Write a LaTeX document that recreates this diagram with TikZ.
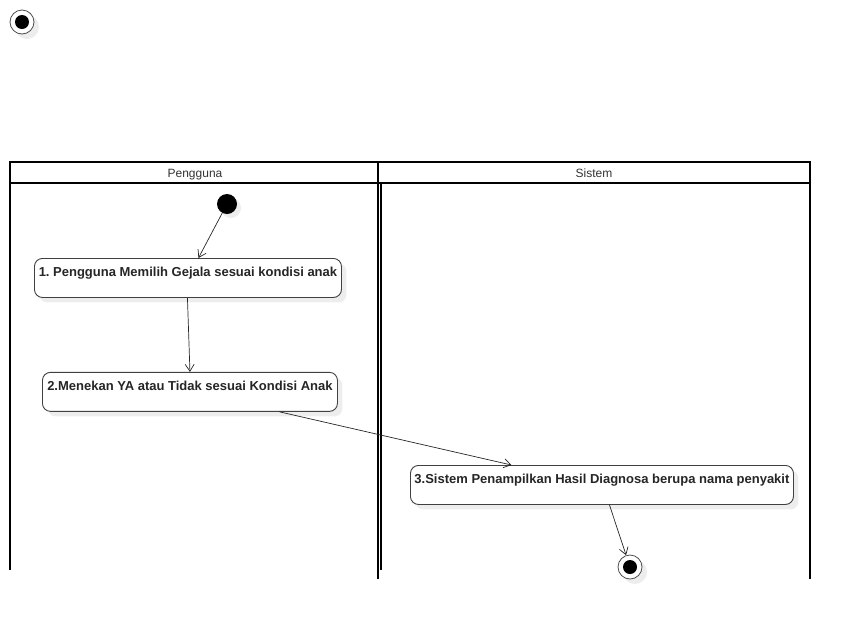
\documentclass[tikz,border=0pt]{standalone}
\usepackage{fontspec}
\setmainfont{Liberation Sans}
\frenchspacing
\usetikzlibrary{positioning,arrows.meta,shadows}

\tikzset{
    lane/.style={line width=2pt, line cap=rect},
    lanetitle/.style={font=\fontsize{12pt}{14pt}\selectfont, text=black!80, anchor=base},
    action/.style={
        draw=black!75, line width=0.9pt, fill=white, rounded corners=8pt,
        font=\fontsize{13pt}{15pt}\selectfont\bfseries, text=black!85,
        minimum height=39pt, text height=15pt, text depth=18pt,
        inner xsep=3pt, inner ysep=3pt,
        drop shadow={shadow xshift=5pt, shadow yshift=-5pt, fill=black!7, opacity=1}
    },
    startnode/.style={
        circle, fill=black, minimum size=20pt, inner sep=0pt,
        drop shadow={shadow xshift=4pt, shadow yshift=-4pt, fill=black!7, opacity=1}
    },
    endnode/.style={
        circle, draw=black!70, line width=0.8pt, fill=white, minimum size=24pt, inner sep=0pt,
        path picture={\fill[black] (path picture bounding box.center) circle (7pt);},
        drop shadow={shadow xshift=5pt, shadow yshift=-5pt, fill=black!7, opacity=1}
    },
    flow/.style={-{Straight Barb[length=7pt, width=9pt]}, line width=0.7pt, draw=black!85}
}

\begin{document}
\begin{tikzpicture}[x=1pt, y=-1pt]
    \useasboundingbox (0,0) rectangle (850,619);

    % lajur
    \draw[lane] (10,569) -- (10,162) -- (810,162) -- (810,578);
    \draw[lane] (10,183) -- (810,183);
    \draw[lane] (378,162) -- (378,578);
    \draw[lane] (381,183) -- (381,569);
    \node[lanetitle] (pengguna) at (195,177.5) {Pengguna};
    \node[lanetitle] (sistem) at (594,177.5) {Sistem};

    \node[endnode] (mark) at (22,22) {};

    % aktivitas
    \node[startnode] (mulai) at (227,204) {};
    \node[action, minimum width=307pt, anchor=north west] (a1) at (34,258) {1. Pengguna Memilih Gejala sesuai kondisi anak};
    \node[action, minimum width=295pt, below=74pt of a1, xshift=2pt] (a2) {2.Menekan YA atau Tidak sesuai Kondisi Anak};
    \node[action, minimum width=383pt, anchor=north west] (a3) at (410,465) {3.Sistem Penampilkan Hasil Diagnosa berupa nama penyakit};
    \node[endnode] (selesai) at (630,567) {};

    \draw[flow] (mulai) -- ([xshift=10.5pt]a1.north);
    \draw[flow] ([xshift=-0.5pt]a1.south) -- (a2.north);
    \draw[flow] ([xshift=89.5pt]a2.south) -- ([xshift=-90.5pt]a3.north);
    \draw[flow] ([xshift=7.5pt]a3.south) -- (selesai);

\end{tikzpicture}
\end{document}
